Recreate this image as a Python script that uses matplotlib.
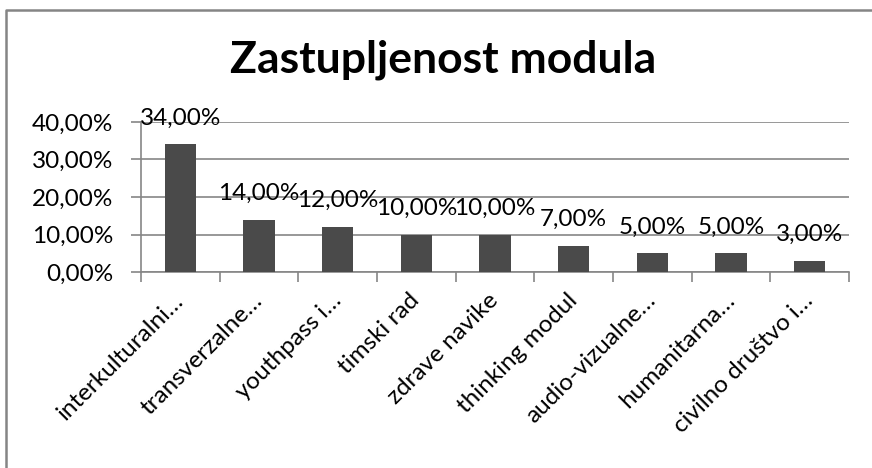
import matplotlib
matplotlib.use("Agg")
import matplotlib.pyplot as plt
from matplotlib.lines import Line2D
from matplotlib.transforms import ScaledTranslation
from matplotlib.ticker import FuncFormatter, MultipleLocator

categories = ["interkulturalni…", "transverzalne…", "youthpass i…", "timski rad",
              "zdrave navike", "thinking modul", "audio-vizualne…", "humanitarna…",
              "civilno društvo i…"]
values = [34, 14, 12, 10, 10, 7, 5, 5, 3]
title = "Zastupljenost modula"

plt.rcParams['font.family'] = ['Lato', 'DejaVu Sans']

W, H = 872, 468
fig = plt.figure(figsize=(W / 100, H / 100), dpi=100)
fig.patch.set_facecolor("white")

# outer chart border (only top and left edges visible in the crop)
fig.add_artist(Line2D([6 / W, 6 / W, 1], [0, 1 - 9.5 / H, 1 - 9.5 / H],
                      transform=fig.transFigure, color="#858585", linewidth=1.8))

ax = fig.add_axes([141 / W, 1 - 272 / H, (849 - 141) / W, (272 - 122) / H])
x = list(range(len(categories)))
ax.bar(x, values, width=0.4, color="#4a4a4a", zorder=3)
ax.set_xlim(-0.5, len(categories) - 0.5)
ax.set_ylim(0, 40)
ax.yaxis.set_major_locator(MultipleLocator(10))
ax.yaxis.set_major_formatter(FuncFormatter(lambda v, p: f"{v:.2f}%".replace(".", ",")))
ax.grid(axis="y", color="#868686", linewidth=1.2, zorder=0)
for s in ["top", "right"]:
    ax.spines[s].set_visible(False)
for s in ["left", "bottom"]:
    ax.spines[s].set_color("#868686")
    ax.spines[s].set_linewidth(1.2)

FS = 17.5
ax.set_xticks([i - 0.5 for i in range(len(categories) + 1)], minor=False)
ax.set_xticklabels([])
ax.set_xticks(x, minor=True)
labels = ax.set_xticklabels(categories, minor=True, rotation=45, ha="right", va="center",
                            rotation_mode="anchor", fontsize=FS)
shift = ScaledTranslation(13 / 100, 0, fig.dpi_scale_trans)
for lb in labels:
    lb.set_transform(lb.get_transform() + shift)
ax.tick_params(axis="x", which="major", length=7, color="#868686", width=1.2)
ax.tick_params(axis="x", which="minor", length=0, pad=18)
ax.tick_params(axis="y", length=7, color="#868686", width=1.2, labelsize=FS, pad=13)

for i, v in enumerate(values):
    ax.annotate(f"{v:.2f}%".replace(".", ","), (i, v), xytext=(0, 19),
                textcoords="offset points", ha="center", va="center",
                fontsize=FS, zorder=4, annotation_clip=False)

fig.text(443 / W, 1 - 60 / H, title, ha="center", va="center",
         fontsize=32, fontweight="bold")

fig.savefig("out.png", dpi=100)
